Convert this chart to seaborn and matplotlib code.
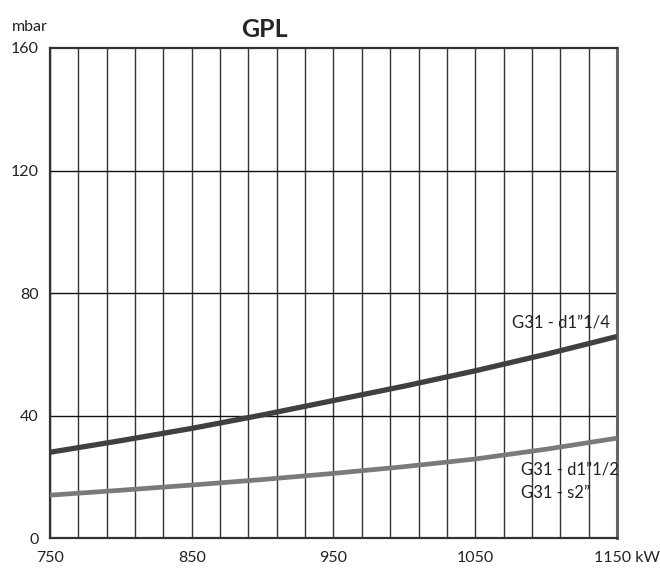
import pandas as pd
import matplotlib
matplotlib.use("Agg")
import matplotlib.pyplot as plt
import seaborn as sns

# Values (kW vs mbar)
power_kw = [750, 800, 850, 900, 950, 1000, 1050, 1100, 1150]
d1_quarter = [28.0, 31.8, 35.8, 40.2, 44.9, 49.6, 54.6, 60.0, 65.8]
d1_half_s2 = [14.0, 15.6, 17.3, 19.1, 21.1, 23.3, 25.8, 29.0, 32.6]
x_ticks = [750, 850, 950, 1050, 1150]
x_labels = ["750", "850", "950", "1050", ""]
y_ticks = [0, 40, 80, 120, 160]

df = pd.DataFrame({"kW": power_kw * 2,
                   "mbar": d1_quarter + d1_half_s2,
                   "serie": ["d1 1/4"] * len(power_kw) + ["d1 1/2"] * len(power_kw)})

sns.set_style("white")
plt.rcParams['font.family'] = ['Lato', 'DejaVu Sans']

fig = plt.figure(figsize=(6.6, 5.7), dpi=100)
ax = fig.add_axes([0.0758, 0.0561, 0.859, 0.8597])

# grid
for x in range(750, 1151, 20):
    ax.axvline(x, color="#333333", lw=1.0, zorder=1)
for y in [40, 80, 120]:
    ax.axhline(y, color="#111111", lw=1.0, zorder=1)

sns.lineplot(data=df, x="kW", y="mbar", hue="serie",
             palette={"d1 1/4": "#404040", "d1 1/2": "#7a7a7a"},
             linewidth=3.6, legend=False, ax=ax, zorder=3)
for ln, w in zip(ax.lines[-2:], [3.8, 3.4]):
    ln.set_linewidth(w)
    ln.set_solid_capstyle("butt")
    ln.set_solid_joinstyle("round")

ax.set_xlim(750, 1150)
ax.set_ylim(0, 160)
ax.set_xticks(x_ticks)
ax.set_xticklabels(x_labels)
ax.set_yticks(y_ticks)
ax.tick_params(axis="both", length=0, labelsize=11.5, colors="#222222")
ax.tick_params(axis="x", pad=9)
ax.tick_params(axis="y", pad=8)
ax.set_xlabel("")
ax.set_ylabel("")
for s in ax.spines.values():
    s.set_color("#333333")
    s.set_linewidth(1.6)
ax.spines["right"].set_color("#666666")
ax.spines["right"].set_linewidth(2.2)

ax.text(-0.068, 1.035, "mbar", transform=ax.transAxes, fontsize=11.5, color="#222222")
# last x label carries the unit
fig.text(0.9, 0.0342, "1150 kW", ha="left", va="top", fontsize=11.5, color="#222222")
fig.text(0.40, 0.935, "GPL", ha="center", fontsize=18, fontweight="bold",
         family=["Liberation Sans Narrow", "Lato", "DejaVu Sans"])

ax.text(1145, 70.5, "G31 - d1\u201d1/4", ha="right", va="center", fontsize=12, color="#222222", zorder=4)
ax.text(1082, 22.3, "G31 - d1\u201d1/2", ha="left", va="center", fontsize=12, color="#222222", zorder=4)
ax.text(1082, 14.8, "G31 - s2\u201d", ha="left", va="center", fontsize=12, color="#222222", zorder=4)

fig.savefig("out.png", dpi=100)
